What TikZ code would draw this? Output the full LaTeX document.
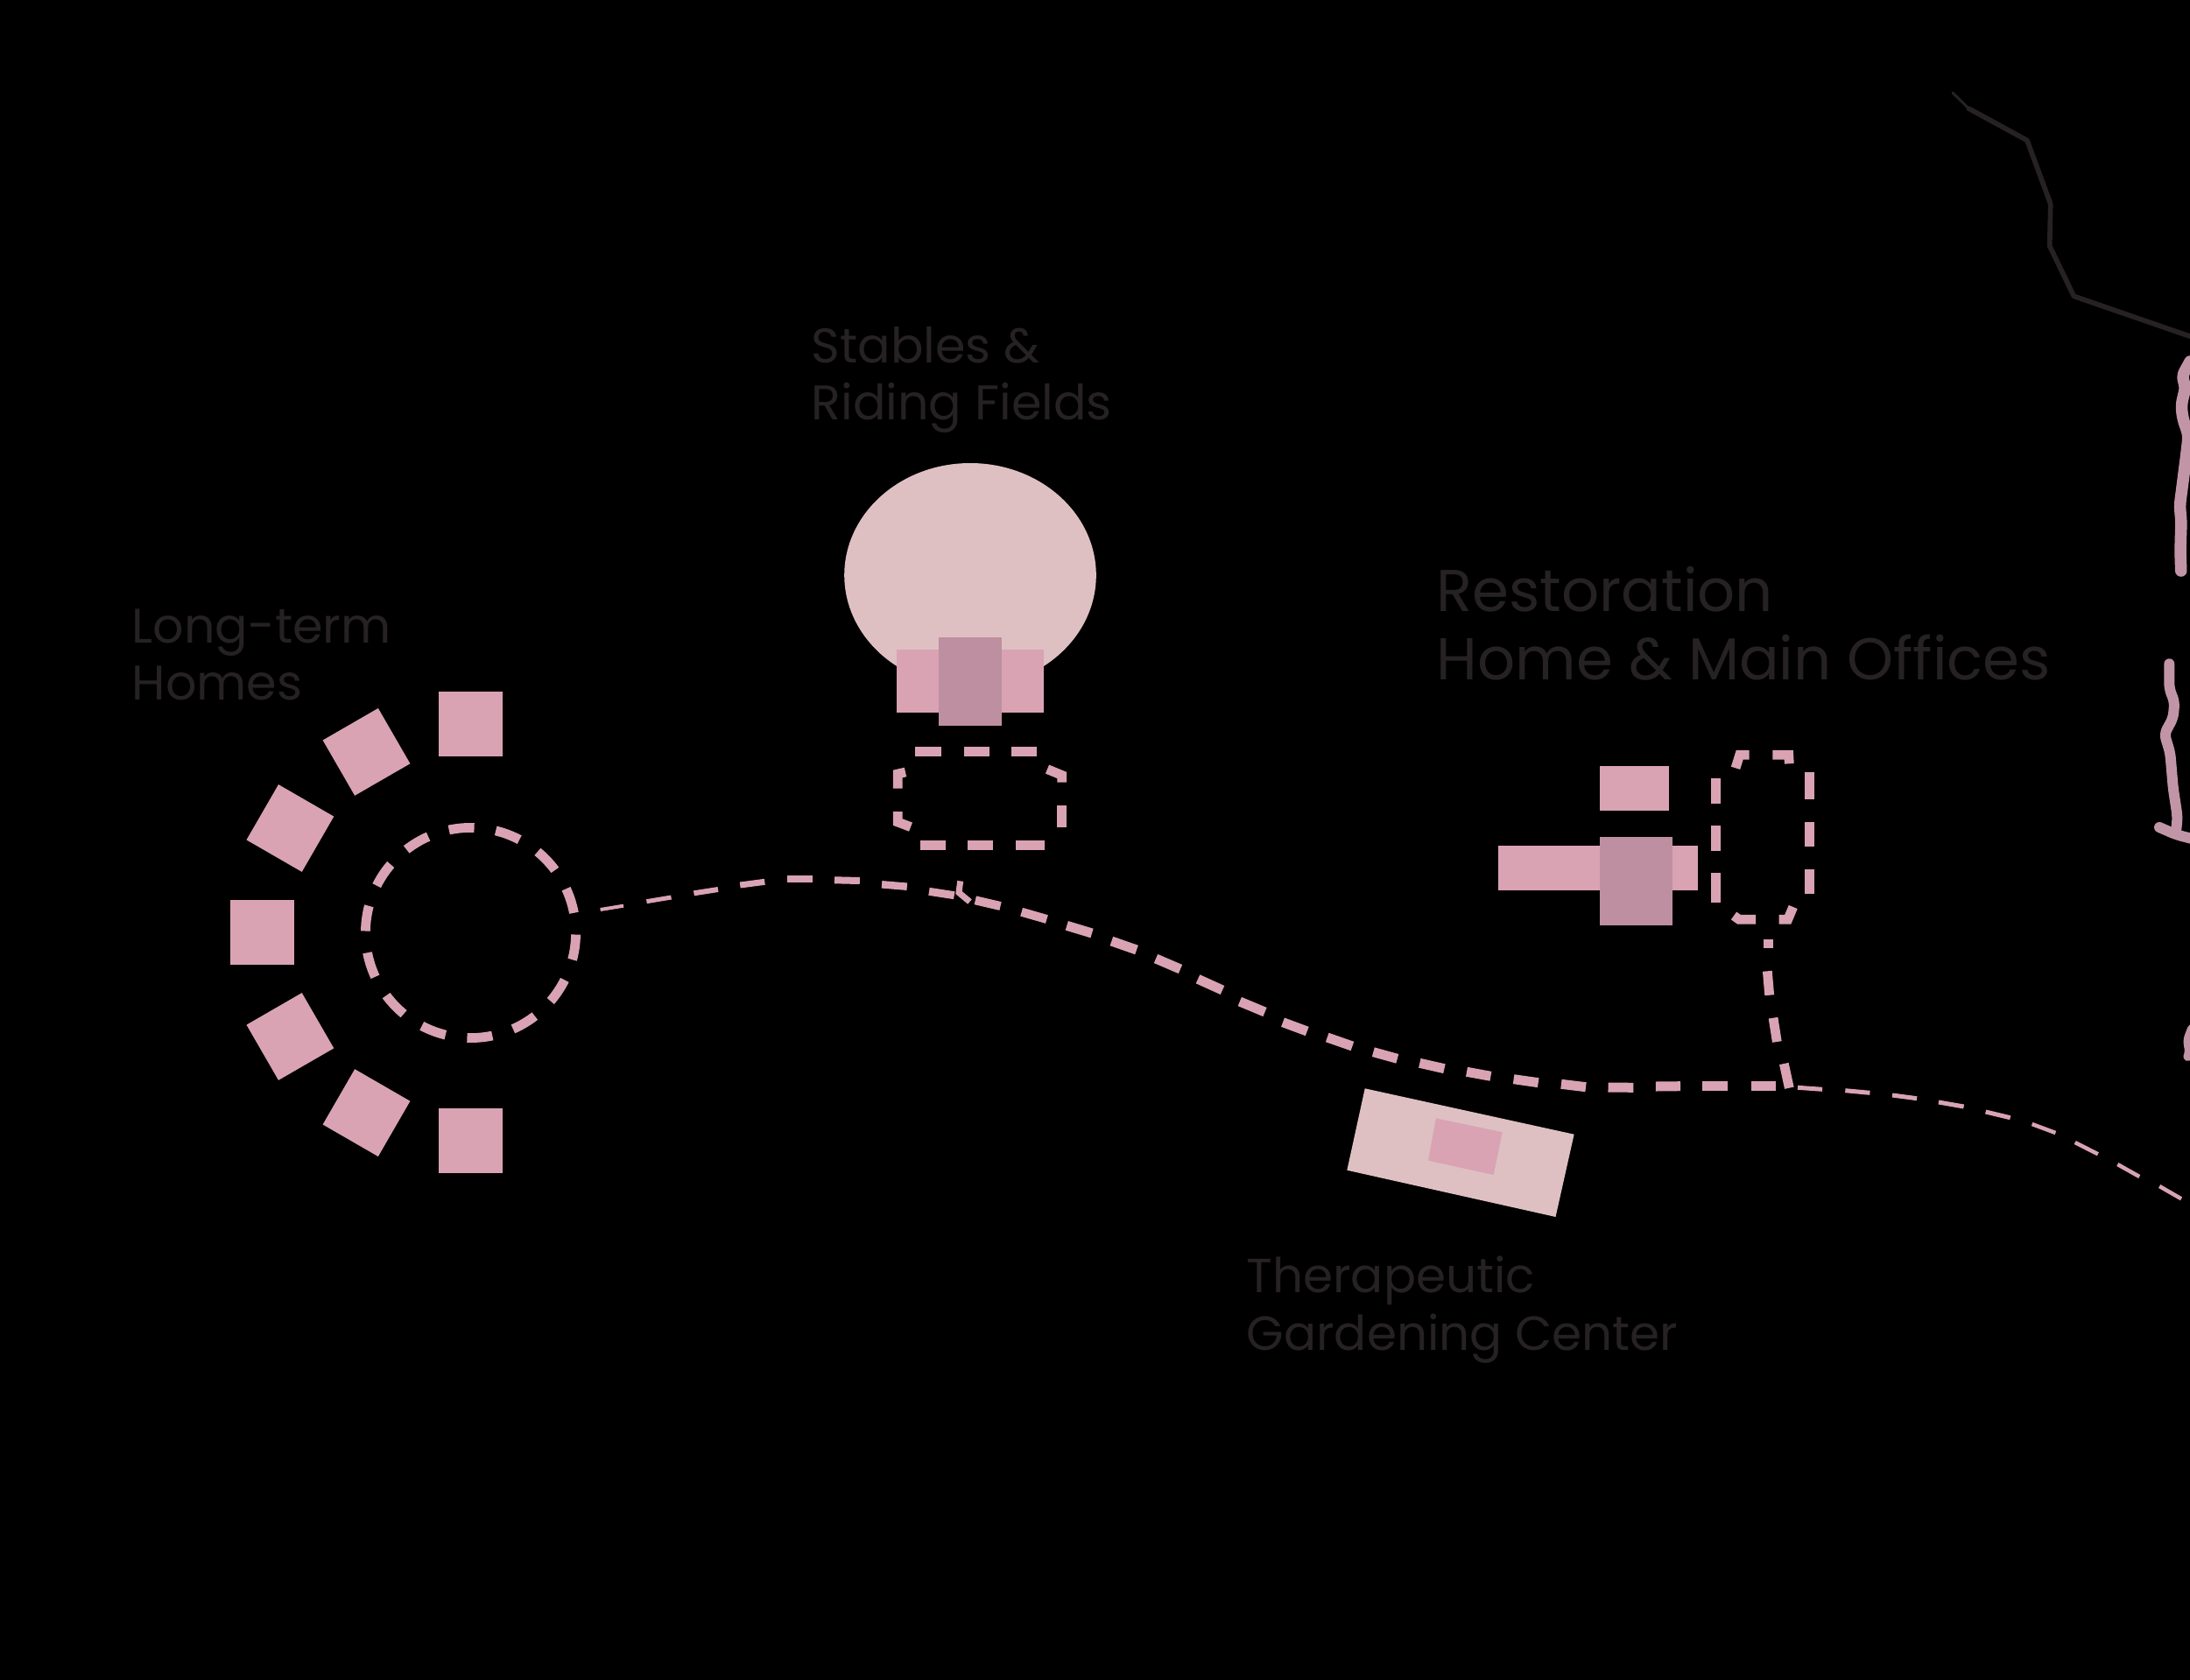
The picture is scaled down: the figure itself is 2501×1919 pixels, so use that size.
\documentclass[tikz,border=0pt]{standalone}
\usepackage{fontspec}
\setmainfont{Poppins}
\usepackage{xcolor}
\definecolor{blockpink}{RGB}{217,163,180}
\definecolor{blockdark}{RGB}{190,143,160}
\definecolor{fieldpink}{RGB}{222,192,195}
\definecolor{streampink}{RGB}{194,149,166}
\definecolor{roadgrey}{RGB}{38,34,35}
\tikzset{
  homeblock/.style={fill=blockpink, minimum size=0.73cm, inner sep=0pt, outer sep=0pt},
  walkdash/.style={draw=blockpink, line width=0.108cm},
  stream/.style={draw=streampink, line width=0.12cm, line cap=round, line join=round, rounded corners=0.06cm},
  smalllabel/.style={text=roadgrey, align=left, anchor=west, inner sep=0pt, font=\fontsize{15.8pt}{18.5pt}\selectfont},
  biglabel/.style={text=roadgrey, align=left, anchor=west, inner sep=0pt, font=\fontsize{19.2pt}{22.2pt}\selectfont},
}

\begin{document}
\begin{tikzpicture}[x=0.01cm, y=-0.01cm]
  \useasboundingbox (0,0) rectangle (2501,1919);
  \clip (0,0) rectangle (2501,1919);
  \fill[black] (0,0) rectangle (2501,1919);

  % long-term homes
  \foreach \a in {90,120,150,180,210,240,270}
    \node[homeblock, rotate=\a-90] (home\a) at ({537.5+238*cos(\a)},{1065-238*sin(\a)}) {};
  \node[draw=blockpink, circle, line width=0.108cm, minimum size=2.4cm, inner sep=0pt, outer sep=0pt,
    dash pattern=on 0.29cm off 0.2486cm, dash phase=0.31cm] (court) at (537.5,1065.5) {};

  % stables
  \fill[fieldpink] (1108,657) ellipse [x radius=143.8, y radius=128];
  \fill[blockpink] (1024,742) rectangle (1192,813.6);
  \fill[blockdark] (1072.3,727.5) rectangle (1144.3,828.6);
  \foreach \xa/\xb in {1045.3/1075,1101/1130,1155/1184}
    \draw[walkdash] (\xa,858.2) -- (\xb,858.2);
  \foreach \xa/\xb in {1051/1080,1105.3/1134,1160/1192.7}
    \draw[walkdash] (\xa,965.4) -- (\xb,965.4);
  \draw[walkdash] (1034,882) -- (1025.2,884) -- (1025.2,900.7);
  \draw[walkdash] (1025.2,927) -- (1025.2,939) -- (1040,944.6);
  \draw[walkdash] (1196,878.6) -- (1212.7,885.5) -- (1212.7,893.6);
  \draw[walkdash] (1212.7,920) -- (1212.7,945);
  \draw[draw=blockpink, line width=0.07cm] (1096.7,1006.4) -- (1095,1019.6) -- (1107.5,1030);

  % restoration home
  \fill[blockpink] (1827,875) rectangle (1906,926);
  \fill[blockpink] (1711.3,966) rectangle (1938.7,1017.3);
  \fill[blockdark] (1827,956) rectangle (1910,1057);
  \foreach \ya/\yb in {889.3/917.7,943.3/971.7,997.3/1030.7}
    \draw[walkdash] (1959.7,\ya) -- (1959.7,\yb);
  \foreach \ya/\yb in {882.3/912.7,939.3/966.7,993.3/1020.7}
    \draw[walkdash] (2066.7,\ya) -- (2066.7,\yb);
  \draw[walkdash] (1982,877.3) -- (1986.7,862.3) -- (1997.7,862.3);
  \draw[walkdash] (2024.3,862.3) -- (2042.7,862.3) -- (2043.3,872.3);
  \draw[walkdash] (1980,1046) -- (1986,1050.3) -- (2005,1050.3);
  \draw[walkdash] (2031.7,1050.3) -- (2041.7,1050.3) -- (2047.7,1036);
  \foreach \xa/\ya/\xb/\yb in {
    2019.3/1072.7/2019.3/1082.7, 2018.3/1109.3/2020.7/1136.7,
    2025/1162.7/2029.3/1190, 2037.3/1215/2043.3/1242.7}
    \draw[walkdash] (\xa,\ya) -- (\xb,\yb);

  % garden center
  \fill[fieldpink] (1558.7,1243.3) -- (1797.6,1295.7) -- (1776.5,1390) -- (1538.3,1336.7) -- cycle;
  \fill[blockpink] (1639.8,1277.3) -- (1715.8,1293.3) -- (1705.6,1342) -- (1631,1325.7) -- cycle;

  % main walk, it gets thicker and then thin again
  \foreach \xa/\ya/\xb/\yb/\w in {
    685.6/1039/712/1034.7/4, 738.4/1029.7/766.5/1025/5, 792.4/1020.3/820/1016/6,
    845.2/1011/873.3/1007.3/7, 899/1004/927.8/1004/8, 953/1005.3/981.8/1006/8,
    1007/1010.3/1035.8/1012.7/8.5, 1061/1018.3/1089.7/1022.7/9, 1113.8/1028.3/1142.5/1035/10,
    1166.6/1041.7/1195.4/1050/10, 1218.3/1057.3/1247/1066/11, 1269.4/1075/1298/1085/11,
    1320/1095/1348/1107/11, 1368/1118.3/1396/1131/11, 1415.8/1144/1444.5/1156/11,
    1465/1167.7/1492.7/1178/11, 1515.7/1185/1544.4/1195/11, 1568.3/1201.7/1595.8/1209.3/11,
    1621.3/1214.3/1649.4/1220.7/11, 1675/1224.3/1702.4/1229.3/11, 1728.6/1232.7/1756.7/1236.7/11,
    1782.9/1238.3/1811/1241.7/11, 1836.5/1242/1865.3/1242.3/11, 1890.8/1241/1919/1240.7/11,
    1944.4/1240.3/1973.2/1240.3/11, 2000/1240.7/2028/1240.7/11,
    2053/1242.3/2081/1244.3/5, 2107.3/1245.7/2135.4/1248.3/5, 2161/1251/2189/1254.7/5,
    2213.9/1259/2242.6/1264/5, 2267.6/1270/2295.7/1276.7/5, 2320.6/1284/2347.4/1294/4.5,
    2369.7/1305/2395.9/1318.3/4.5, 2418.3/1330/2443.2/1344/4.5, 2466.1/1355/2491/1369.3/4.5}
    \draw[draw=blockpink, line width=\w*0.01cm] (\xa,\ya) -- (\xb,\yb);

  % road and stream at the right edge
  \draw[draw=roadgrey, line width=0.03cm, line cap=round] (2230,106) -- (2248.3,124);
  \draw[draw=roadgrey, line width=0.057cm, line cap=round, line join=round] (2248.3,124) -- (2315,160.4) -- (2341.7,233) -- (2340.7,281) -- (2368.3,338.3) -- (2501,384.2);
  \draw[stream, line width=0.135cm] (2501,413) -- (2491.7,430) -- (2496,441.7) -- (2491,462.7) -- (2492.7,478) -- (2499.3,497) -- (2496.7,520) -- (2489.3,577.5) -- (2491,596.6) -- (2490.3,615.8) -- (2490,631) -- (2490.7,652);
  \draw[stream] (2477.3,758.3) -- (2477.3,786.7) -- (2483.3,801.7) -- (2481.7,820) -- (2471.7,838.3) -- (2478.3,860) -- (2481.7,900) -- (2486.7,933.3) -- (2485,950);
  \draw[stream] (2466,945) -- (2485,953.3) -- (2503,958);
  \draw[stream, line width=0.1cm] (2503,1175) -- (2497.3,1190) -- (2501,1200) -- (2498.3,1207);

  % labels
  \node[smalllabel] (homeslabel) at (150,748) {Long-term\\Homes};
  \node[smalllabel] (stableslabel) at (926,434) {Stables \&\\Riding Fields};
  \node[biglabel] (officelabel) at (1640,712) {Restoration\\Home \& Main Offices};
  \node[smalllabel, font=\fontsize{15.6pt}{18.5pt}\selectfont] (gardenlabel) at (1423,1496) {Therapeutic\\Gardening Center};
\end{tikzpicture}
\end{document}
